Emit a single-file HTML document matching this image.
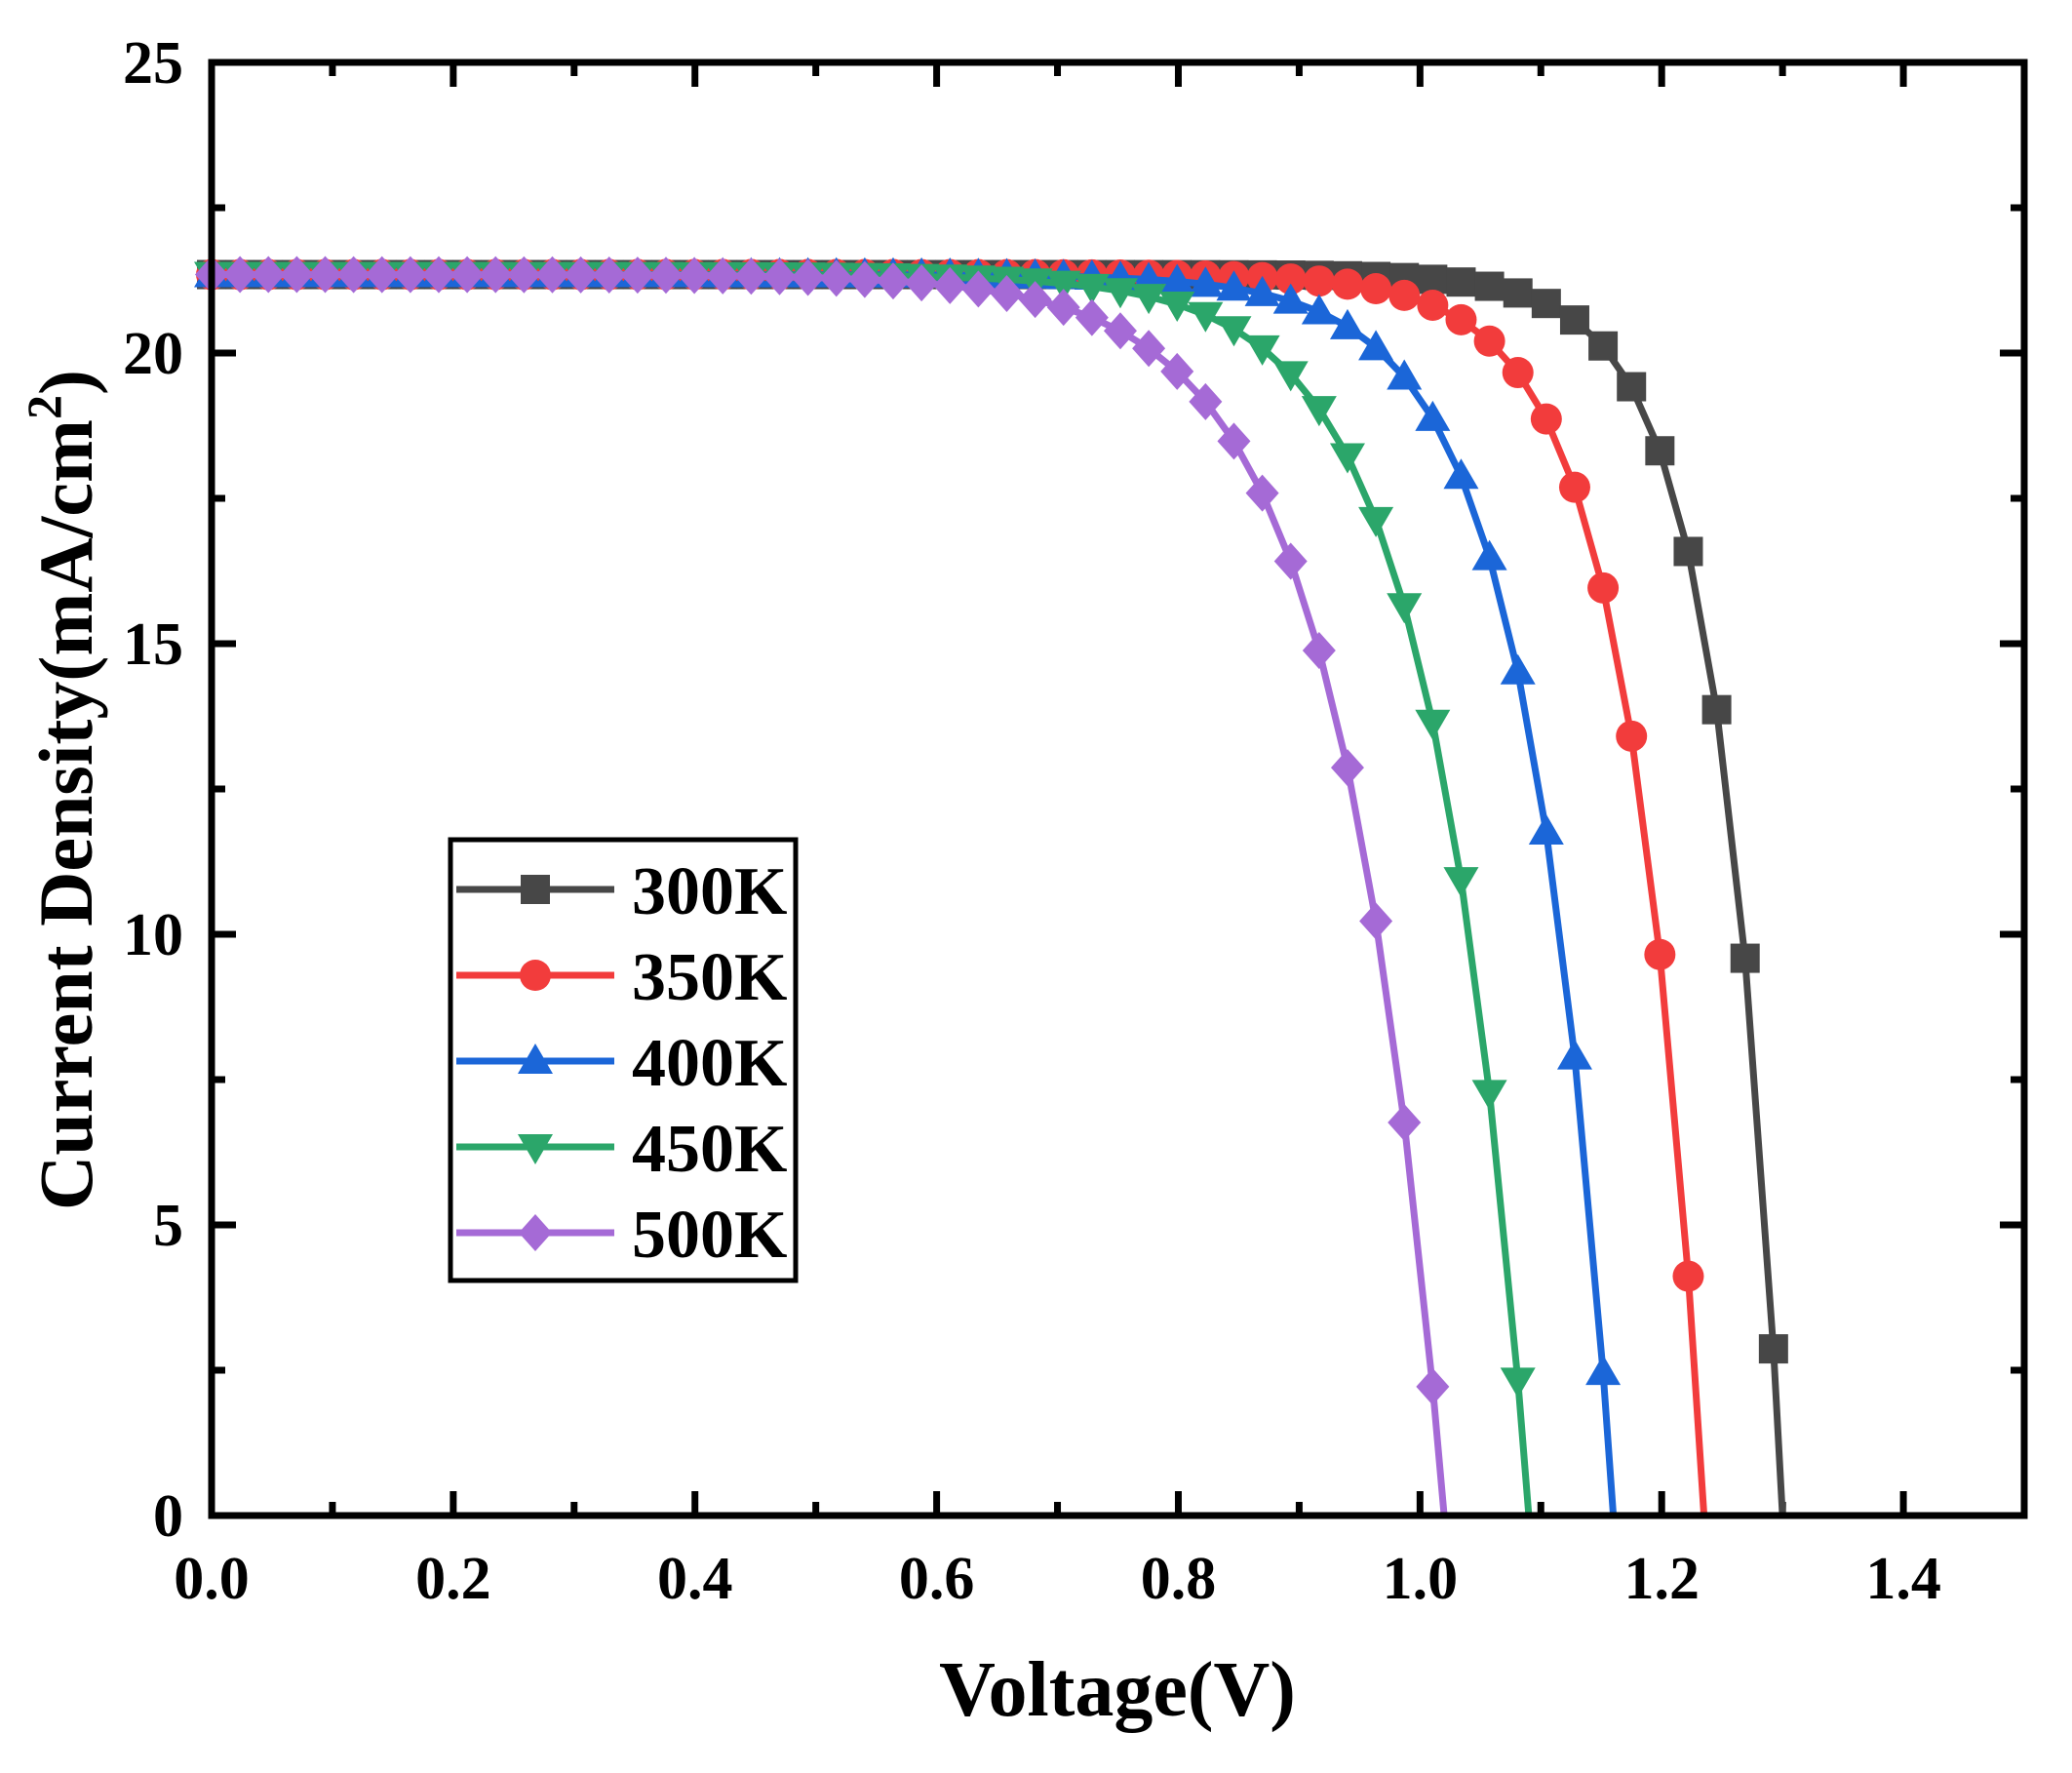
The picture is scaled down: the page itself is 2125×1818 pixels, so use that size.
<!DOCTYPE html>
<html><head><meta charset="utf-8"><style>
html,body{margin:0;padding:0;background:#fff}
svg{display:block}
text{font-family:"Liberation Serif",serif;font-weight:bold;fill:#000}
</style></head><body>
<svg id="s" width="2125" height="1818" viewBox="0 0 2125 1818" xmlns="http://www.w3.org/2000/svg"></svg>
<script>
const s=document.getElementById('s');
const L=217,R=2076,T=64,B=1554;
const X=v=>L+v*(R-L)/1.5, Y=j=>B-j*(B-T)/25;
let h='';
for(let i=0;i<=15;i++){const x=X(i*0.1),len=i%2==0?25:14;
 h+=`<line x1="${x}" y1="${B}" x2="${x}" y2="${B-len}" stroke="#000" stroke-width="7"/>`;
 h+=`<line x1="${x}" y1="${T}" x2="${x}" y2="${T+len}" stroke="#000" stroke-width="7"/>`;
 if(i%2==0&&i<15) h+=`<text x="${x}" y="1639" font-size="62" text-anchor="middle">${(i*0.1).toFixed(1)}</text>`;}
for(let i=0;i<=10;i++){const y=Y(i*2.5),len=i%2==0?25:14;
 h+=`<line x1="${L}" y1="${y}" x2="${L+len}" y2="${y}" stroke="#000" stroke-width="7"/>`;
 h+=`<line x1="${R}" y1="${y}" x2="${R-len}" y2="${y}" stroke="#000" stroke-width="7"/>`;
 if(i%2==0) h+=`<text x="188" y="${y+21}" font-size="62" text-anchor="end">${i*2.5}</text>`;}
const ser=[[300,1.300,'#474747','sq'],[350,1.235,'#f23c3c','ci'],[400,1.160,'#1b66d8','tu'],[450,1.090,'#2ba66a','td'],[500,1.020,'#a56ad6','di']];
const Jsc=21.35;
function mk(t,x,y,c){
 x=+x;y=+y;
 if(t=='sq')return `<rect x="${x-15}" y="${y-15}" width="30" height="30" fill="${c}"/>`;
 if(t=='ci')return `<circle cx="${x}" cy="${y}" r="16" fill="${c}"/>`;
 if(t=='tu')return `<polygon points="${x},${y-18} ${x-18},${y+13} ${x+18},${y+13}" fill="${c}"/>`;
 if(t=='td')return `<polygon points="${x},${y+18} ${x-18},${y-13} ${x+18},${y-13}" fill="${c}"/>`;
 return `<polygon points="${x},${y-19} ${x+17},${y} ${x},${y+19} ${x-17},${y}" fill="${c}"/>`;}
for(const [Tk,voc,c,t] of ser){
 const a=0.052*Tk/300;
 const f=v=>Jsc*(1-Math.exp((v-voc)/a))/(1-Math.exp(-voc/a));
 let pts=[],m='';
 for(let k=0;;k++){const v=k*0.0235;const j=f(v);if(j<0)break;pts.push([X(v),Y(j)]);m+=mk(t,X(v),Y(j),c);}
 pts.push([X(voc),Y(0)]);
 h+=`<polyline points="${pts.map(p=>p[0].toFixed(1)+','+p[1].toFixed(1)).join(' ')}" fill="none" stroke="${c}" stroke-width="7" stroke-linejoin="round"/>`;
 h+=m;}
h+=`<rect x="${L}" y="${T}" width="${R-L}" height="${B-T}" fill="none" stroke="#000" stroke-width="7"/>`;
h+=`<rect x="462" y="861" width="354" height="452" fill="#fff" stroke="#000" stroke-width="5"/>`;
const ly=[912,1000,1088,1176,1264];
ser.forEach((q,i)=>{h+=`<line x1="468" y1="${ly[i]}" x2="630" y2="${ly[i]}" stroke="${q[2]}" stroke-width="7"/>`+mk(q[3],549,ly[i],q[2])+`<text x="648" y="${ly[i]+25}" font-size="70">${q[0]}K</text>`;});
h+=`<text x="1146" y="1759" font-size="80" text-anchor="middle">Voltage(V)</text>`;
h+=`<text transform="translate(94,810) rotate(-90)" font-size="78" text-anchor="middle">Current Density(mA/cm<tspan font-size="50" dy="-32">2</tspan><tspan dy="32">)</tspan></text>`;
s.innerHTML=h;
</script>
</body></html>
